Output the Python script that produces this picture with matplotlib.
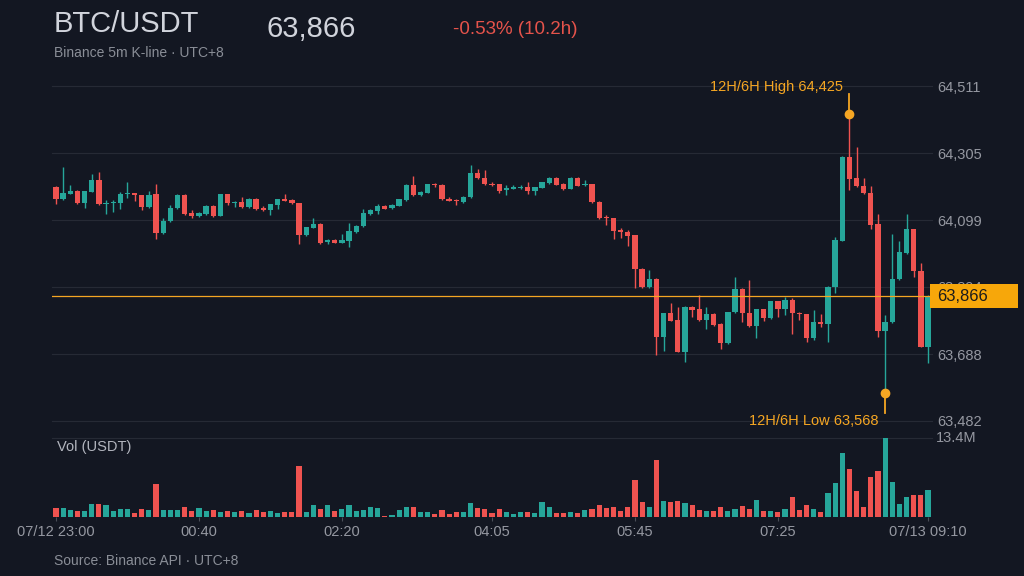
import numpy as np
import matplotlib
matplotlib.use("Agg")
import matplotlib.pyplot as plt
from matplotlib.patches import Rectangle

plt.rcParams['font.family'] = ['Liberation Sans', 'DejaVu Sans']

# ---------------- data (BTC/USDT 5m candles, 07/12 23:00 -> 07/13 09:10) ----------------
opens = [64202, 64164, 64180, 64189, 64152, 64186, 64222, 64148, 64151, 64152,
         64178, 64181, 64175, 64138, 64178, 64058, 64096, 64136, 64176, 64120,
         64113, 64117, 64142, 64113, 64178, 64152, 64155, 64138, 64164, 64135,
         64130, 64145, 64164, 64161, 64151, 64053, 64076, 64087, 64031, 64038,
         64030, 64036, 64062, 64081, 64118, 64127, 64142, 64135, 64143, 64161,
         64207, 64176, 64183, 64210, 64207, 64164, 64161, 64155, 64169, 64243,
         64227, 64211, 64209, 64190, 64195, 64198, 64202, 64189, 64199, 64213,
         64228, 64210, 64195, 64228, 64206, 64209, 64155, 64108, 64104, 64069,
         64062, 64052, 63950, 63893, 63919, 63741, 63813, 63792, 63695, 63833,
         63825, 63792, 63811, 63780, 63721, 63816, 63888, 63815, 63774, 63825,
         63797, 63850, 63825, 63854, 63815, 63810, 63738, 63786, 63780, 63895,
         64036, 64293, 64229, 64205, 64181, 64086, 63759, 63785, 63918, 63997,
         64071, 63944, 63710]
closes = [64164, 64181, 64189, 64151, 64187, 64222, 64148, 64152, 64154, 64179,
          64183, 64175, 64138, 64176, 64058, 64096, 64136, 64176, 64117, 64112,
          64120, 64142, 64112, 64178, 64152, 64155, 64138, 64164, 64132, 64131,
          64147, 64163, 64159, 64151, 64053, 64077, 64087, 64030, 64039, 64030,
          64038, 64065, 64082, 64120, 64130, 64142, 64134, 64145, 64163, 64207,
          64175, 64185, 64209, 64206, 64163, 64159, 64157, 64171, 64243, 64227,
          64209, 64207, 64189, 64199, 64200, 64202, 64187, 64200, 64215, 64228,
          64208, 64194, 64228, 64205, 64209, 64155, 64104, 64104, 64066, 64062,
          64051, 63949, 63893, 63919, 63741, 63813, 63790, 63695, 63833, 63823,
          63792, 63811, 63777, 63721, 63816, 63888, 63813, 63774, 63825, 63797,
          63850, 63825, 63854, 63813, 63810, 63738, 63786, 63780, 63895, 64038,
          64293, 64225, 64205, 64181, 64084, 63759, 63787, 63918, 64000, 64071,
          63943, 63710, 63866]
highs = [64205, 64261, 64207, 64192, 64189, 64241, 64246, 64161, 64161, 64184,
         64215, 64183, 64177, 64189, 64210, 64106, 64145, 64179, 64178, 64130,
         64125, 64144, 64144, 64180, 64180, 64159, 64171, 64166, 64166, 64142,
         64149, 64165, 64178, 64163, 64153, 64079, 64104, 64089, 64041, 64040,
         64055, 64091, 64084, 64132, 64132, 64148, 64144, 64147, 64165, 64209,
         64233, 64187, 64211, 64214, 64209, 64169, 64163, 64173, 64269, 64256,
         64253, 64217, 64211, 64207, 64207, 64207, 64217, 64202, 64217, 64230,
         64230, 64212, 64230, 64230, 64222, 64211, 64157, 64114, 64106, 64074,
         64069, 64054, 63952, 63946, 63921, 63815, 63844, 63833, 63835, 63835,
         63869, 63833, 63813, 63782, 63818, 63924, 63890, 63915, 63827, 63827,
         63852, 63852, 63864, 63861, 63817, 63812, 63823, 63810, 63897, 64048,
         64295, 64425, 64324, 64229, 64204, 64118, 63808, 64056, 64036, 64118,
         64073, 63968, 63868]
lows = [64148, 64162, 64178, 64147, 64135, 64184, 64146, 64118, 64125, 64133,
        64168, 64159, 64130, 64135, 64040, 64055, 64093, 64134, 64115, 64106,
        64109, 64115, 64109, 64111, 64145, 64138, 64136, 64136, 64130, 64128,
        64115, 64133, 64157, 64149, 64026, 64050, 64074, 64027, 64026, 64028,
        64028, 64015, 64060, 64079, 64116, 64117, 64132, 64133, 64141, 64159,
        64173, 64174, 64181, 64202, 64161, 64157, 64146, 64153, 64167, 64225,
        64207, 64205, 64181, 64177, 64193, 64194, 64178, 64176, 64197, 64211,
        64206, 64192, 64193, 64203, 64204, 64153, 64102, 64084, 64040, 64043,
        64019, 63890, 63891, 63891, 63685, 63698, 63788, 63693, 63664, 63801,
        63790, 63764, 63775, 63703, 63719, 63814, 63787, 63772, 63738, 63788,
        63795, 63802, 63808, 63748, 63792, 63726, 63731, 63772, 63724, 63874,
        64034, 64192, 64202, 64179, 64071, 63741, 63568, 63783, 63916, 63995,
        63925, 63708, 63659]
volumes_m = [1.48, 1.54, 1.14, 0.91, 1.03, 2.17, 2.17, 2.05, 0.97, 1.25,
             1.31, 0.68, 1.37, 1.14, 5.59, 1.20, 1.20, 1.14, 1.71, 1.03,
             1.43, 0.91, 1.14, 0.86, 0.91, 0.86, 1.03, 0.57, 1.14, 0.80,
             0.91, 0.57, 0.74, 0.74, 8.67, 0.80, 2.05, 1.25, 2.05, 0.91,
             1.25, 2.05, 0.91, 1.08, 1.65, 1.43, 0.17, 0.23, 1.08, 1.65,
             1.60, 0.80, 0.80, 0.40, 1.14, 0.46, 0.80, 0.80, 2.39, 1.43,
             1.37, 0.63, 1.25, 0.80, 0.46, 0.80, 0.80, 0.68, 2.51, 1.71,
             0.68, 0.57, 0.80, 0.68, 1.14, 1.37, 1.94, 1.48, 1.71, 1.03,
             1.71, 6.27, 2.51, 1.71, 9.69, 2.74, 2.51, 2.62, 2.28, 1.94,
             1.14, 1.03, 0.91, 1.71, 1.03, 1.37, 1.82, 1.37, 2.85, 0.91,
             0.91, 0.80, 1.37, 3.31, 1.14, 1.94, 1.37, 0.80, 3.99, 5.82,
             10.83, 8.10, 4.45, 1.60, 6.73, 7.87, 13.40, 5.93, 2.17, 3.31,
             3.76, 3.76, 4.56]
x_tick_labels = ["07/12 23:00", "00:40", "02:20", "04:05", "05:45", "07:25", "07/13 09:10"]

# ---------------- style ----------------
BG = "#131722"
GRID = "#262a35"
UP = "#26a69a"
DOWN = "#ef5350"
TXT = "#9598a1"
ORANGE = "#f5a623"
W, H = 1024, 576

o = np.array(opens, float); c = np.array(closes, float)
hi = np.array(highs, float); lo = np.array(lows, float)
vol = np.array(volumes_m, float)
n = len(o)
x = np.arange(n)
up = c >= o
cols = np.where(up, UP, DOWN)

fig = plt.figure(figsize=(W / 100, H / 100), dpi=100, facecolor=BG)
left_px, right_px = 52.4, 931.6
ax = fig.add_axes([left_px / W, 1 - 421 / H, (right_px - left_px) / W, (421 - 86) / H])
axv = fig.add_axes([left_px / W, 1 - 516.7 / H, (right_px - left_px) / W, (516.7 - 438.3) / H])
for a in (ax, axv):
    a.set_facecolor(BG)
    for s in a.spines.values():
        s.set_visible(False)

# price range with 10% padding
pmin, pmax = lo.min(), hi.max()
pad = 0.1 * (pmax - pmin)
y0, y1 = pmin - pad, pmax + pad
ax.set_ylim(y0, y1)
ax.set_xlim(-0.5, n - 0.5)
yt = np.linspace(y0, y1, 6)
ax.set_yticks(yt)
ax.set_yticklabels([f"{v:,.0f}" for v in yt])
ax.yaxis.tick_right()
ax.tick_params(axis='y', length=0, pad=4, labelcolor=TXT, labelsize=10.5)
ax.tick_params(axis='x', bottom=False, labelbottom=False)
for v in yt:
    ax.axhline(v, color=GRID, lw=0.8, zorder=0, clip_on=False)

# candles
body_bot = np.minimum(o, c)
body_h = np.maximum(np.abs(c - o), 2.5)
ax.vlines(x, lo, hi, colors=cols, lw=1.0, zorder=2)
ax.bar(x, body_h, bottom=body_bot, width=0.74, color=cols, zorder=3, linewidth=0)

# last price line + label box
last = c[-1]
ax.axhline(last, color=ORANGE, lw=0.9, zorder=4)
fig.canvas.draw()
ypix = ax.transData.transform((0, last))[1]
fig.patches.append(Rectangle((930 / W, (ypix - 12) / H), 88 / W, 24 / H,
                             transform=fig.transFigure, facecolor="#f7a70a",
                             edgecolor="none", zorder=5))
fig.text(937 / W, ypix / H, f"{last:,.0f}", color="#1b1b1b", fontsize=12,
         va='center', ha='left', zorder=6)

# high / low markers
ih = int(np.argmax(hi)); il = int(np.argmin(lo))
ax.plot([ih, ih], [hi[ih], hi[ih] + 62], color=ORANGE, lw=1.3, zorder=5, clip_on=False)
ax.plot(ih, hi[ih], 'o', color=ORANGE, ms=6, zorder=6, clip_on=False)
ax.text(ih - 0.9, hi[ih] + 82, f"12H/6H High {hi[ih]:,.0f}", color=ORANGE,
        fontsize=10.5, ha='right', va='center', clip_on=False)
ax.plot([il, il], [lo[il], lo[il] - 62], color=ORANGE, lw=1.3, zorder=5, clip_on=False)
ax.plot(il, lo[il], 'o', color=ORANGE, ms=6, zorder=6, clip_on=False)
ax.text(il - 0.9, lo[il] - 86, f"12H/6H Low {lo[il]:,.0f}", color=ORANGE,
        fontsize=10.5, ha='right', va='center', clip_on=False)

# volume
vmax = vol.max()
axv.bar(x, vol, width=0.72, color=cols, linewidth=0, zorder=2)
axv.set_xlim(-0.5, n - 0.5)
axv.set_ylim(0, vmax)
axv.axhline(vmax, color=GRID, lw=0.8, zorder=0, clip_on=False)
axv.set_yticks([])
axv.text(1.005, 1.0, f"{vmax:.1f}M", transform=axv.transAxes, color=TXT,
         fontsize=10.5, ha='left', va='center')
tick_pos = np.floor(np.linspace(0, n - 1, len(x_tick_labels))).astype(int)
axv.set_xticks(tick_pos)
axv.set_xticklabels(x_tick_labels)
axv.tick_params(axis='x', length=3, color="#4a4e58", pad=3, labelcolor=TXT, labelsize=10.5)
fig.text(57 / W, 1 - 447 / H, "Vol (USDT)", color="#b2b5be", fontsize=10.5, va='center')

# header
fig.text(54 / W, 1 - 32 / H, "BTC/USDT", color="#d1d4dc", fontsize=21, va='baseline')
fig.text(266 / W, 1 - 37 / H, f"{last:,.0f}", color="#d1d4dc", fontsize=21, va='baseline')
fig.text(453 / W, 1 - 34 / H, "-0.53% (10.2h)", color="#e5534b", fontsize=13.5, va='baseline')
fig.text(54 / W, 1 - 57 / H, "Binance 5m K-line · UTC+8", color="#8a8e97", fontsize=10, va='baseline')
fig.text(54 / W, 1 - 565 / H, "Source: Binance API · UTC+8", color="#8a8e97", fontsize=10, va='baseline')

fig.savefig("out.png", dpi=100, facecolor=BG)
